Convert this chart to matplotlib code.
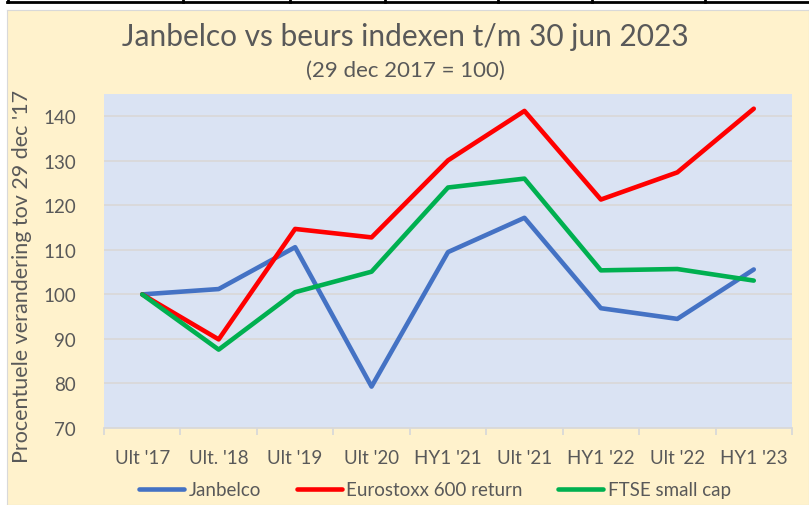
import matplotlib.pyplot as plt
from matplotlib.lines import Line2D

# categorieën en reeksen (29 dec 2017 = 100)
labels = ["Ult '17", "Ult. '18", "Ult '19", "Ult '20", "HY1 '21",
          "Ult '21", "HY1 '22", "Ult '22", "HY1 '23"]
janbelco = [100, 101.2, 110.6, 79.3, 109.5, 117.2, 96.9, 94.5, 105.6]
eurostoxx = [100, 89.9, 114.7, 112.8, 130.1, 141.2, 121.3, 127.4, 141.7]
ftse = [100, 87.6, 100.5, 105.1, 124.0, 126.0, 105.4, 105.7, 103.1]
y_ticks = [70, 80, 90, 100, 110, 120, 130, 140]

FONT = ["Lato", "DejaVu Sans"]
GRIJS = "#595959"
plt.rcParams['font.family'] = FONT

fig = plt.figure(figsize=(8.09, 5.06), dpi=100)
fig.patch.set_facecolor("white")

# gele achtergrond van de grafiek (onder de tabelrand bovenaan)
bg = fig.add_axes([7 / 809, 0, 1 - 7 / 809, 1 - 11 / 506])
bg.set_facecolor("#FFF2CC")
for s in bg.spines.values():
    s.set_color("#D9D9D9")
bg.set_xticks([])
bg.set_yticks([])
bg.set_zorder(0)

# tabelrand bovenaan
top = fig.add_axes([0, 1 - 11 / 506, 1, 11 / 506])
top.set_xlim(0, 809)
top.set_ylim(11, 0)
top.axis("off")
top.plot([7, 809], [3, 3], color="black", lw=2)
for xv in [8, 183, 290, 385, 498, 592, 705]:
    top.plot([xv, xv], [0, 3], color="black", lw=2)

ax = fig.add_axes([104 / 809, 1 - 429 / 506, (792 - 104) / 809, (429 - 95) / 506])
ax.set_zorder(2)
ax.set_facecolor("#DAE3F3")

x = list(range(len(labels)))
ax.plot(x, janbelco, color="#4472C4", lw=3.3, solid_capstyle="round", label="Janbelco")
ax.plot(x, eurostoxx, color="#FF0000", lw=3.3, solid_capstyle="round", label="Eurostoxx 600 return")
ax.plot(x, ftse, color="#00B050", lw=3.3, solid_capstyle="round", label="FTSE small cap")

ax.set_xlim(-0.5, len(labels) - 0.5)
ax.set_ylim(70, 145)
ax.set_yticks(y_ticks)
ax.grid(axis="y", color="#D9D9D9", lw=1.3)
ax.set_axisbelow(True)

ax.set_xticks(x)
ax.set_xticklabels(labels)
ax.set_xticks([i - 0.5 for i in range(len(labels) + 1)], minor=True)
ax.tick_params(axis="x", which="major", length=0, pad=15, labelsize=13.5, labelcolor=GRIJS)
ax.tick_params(axis="x", which="minor", length=5, width=1.3, color="#D9D9D9")
ax.tick_params(axis="y", length=0, pad=20, labelsize=13.5, labelcolor=GRIJS)

for side in ["top", "right", "left"]:
    ax.spines[side].set_visible(False)
ax.spines["bottom"].set_color("#D9D9D9")
ax.spines["bottom"].set_linewidth(1.3)

fig.text(405 / 809, 1 - 37 / 506, "Janbelco vs beurs indexen t/m 30 jun 2023",
         ha="center", va="center", fontsize=21.5, color=GRIJS)
fig.text(405 / 809, 1 - 71 / 506, "(29 dec 2017 = 100)",
         ha="center", va="center", fontsize=16, color=GRIJS)
fig.text(22 / 809, 1 - 276 / 506, "Procentuele verandering tov 29 dec '17",
         ha="center", va="center", rotation=90, fontsize=15.5, color=GRIJS)

handles = [Line2D([], [], color="#4472C4", lw=3.3, solid_capstyle="round"),
           Line2D([], [], color="#FF0000", lw=3.3, solid_capstyle="round"),
           Line2D([], [], color="#00B050", lw=3.3, solid_capstyle="round")]
leg = fig.legend(handles, ["Janbelco", "Eurostoxx 600 return", "FTSE small cap"],
                 loc="center", bbox_to_anchor=(435 / 809, 1 - 491 / 506), ncol=3,
                 frameon=False, fontsize=13.5, handlelength=2.4, handletextpad=0.25,
                 columnspacing=1.9)
for t in leg.get_texts():
    t.set_color(GRIJS)

fig.savefig("out.png", dpi=100, facecolor=fig.get_facecolor())
